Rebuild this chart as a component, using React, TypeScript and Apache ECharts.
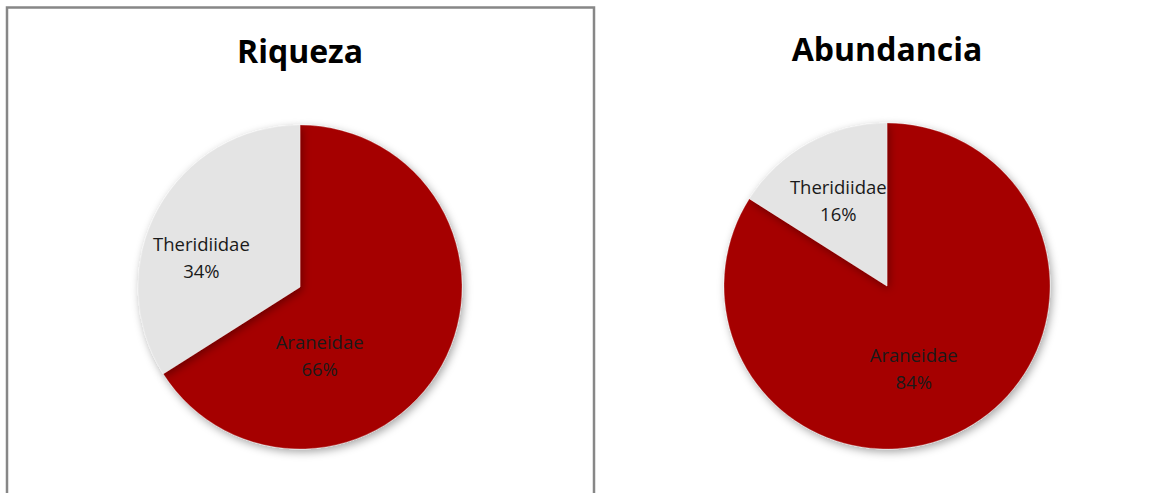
import React, { useEffect, useRef } from "react";
import * as echarts from "echarts";

const families = ["Araneidae", "Theridiidae"];
const riqueza = [66, 34];
const abundancia = [84, 16];
const titles = ["Riqueza", "Abundancia"];

const RED = "#A50505";
const GRAY = "#E4E4E4";

export default function App() {
  const ref = useRef<HTMLDivElement>(null);
  useEffect(() => {
    document.body.style.margin = "0";
    const chart = echarts.init(ref.current!, undefined, { renderer: "svg" });
    const labelStyle = {
      show: true,
      position: "inside",
      formatter: "{b}\n{d}%",
      fontFamily: "Open Sans",
      fontSize: 18.5,
      lineHeight: 27,
      color: "#1a1a1a",
    };
    const makeData = (vals: number[], offsets: number[][]) =>
      families.map((name, i) => ({
        name,
        value: vals[i],
        itemStyle: { color: i === 0 ? RED : GRAY },
        label: { offset: offsets[i] },
      }));
    const pieStyle = {
      shadowBlur: 8,
      shadowColor: "rgba(0,0,0,0.35)",
      shadowOffsetX: 2,
      shadowOffsetY: 3,
      borderColor: "rgba(255,255,255,0.25)",
      borderWidth: 1,
    };
    chart.setOption({
      animation: false,
      backgroundColor: "#ffffff",
      graphic: [
        {
          type: "rect",
          shape: { x: 7, y: 7.5, width: 587, height: 500 },
          style: { fill: "none", stroke: "#878787", lineWidth: 2.5 },
        },
        {
          type: "text",
          x: 300,
          y: 50,
          style: {
            text: titles[0],
            font: "bold 32px 'Open Sans'",
            fill: "#000",
            textAlign: "center",
            textVerticalAlign: "middle",
          },
        },
        {
          type: "text",
          x: 887,
          y: 48,
          style: {
            text: titles[1],
            font: "bold 32px 'Open Sans'",
            fill: "#000",
            textAlign: "center",
            textVerticalAlign: "middle",
          },
        },
      ],
      series: [
        {
          type: "pie",
          center: [300, 287],
          radius: [0, 162],
          startAngle: 90,
          clockwise: true,
          label: labelStyle,
          labelLine: { show: false },
          itemStyle: pieStyle,
          emphasis: { disabled: true },
          data: makeData(riqueza, [
            [-54, 28],
            [-25, 10],
          ]),
        },
        {
          type: "pie",
          center: [887, 286],
          radius: [0, 163],
          startAngle: 90,
          clockwise: true,
          label: labelStyle,
          labelLine: { show: false },
          itemStyle: pieStyle,
          emphasis: { disabled: true },
          data: makeData(abundancia, [
            [-14, 8],
            [-8, -12],
          ]),
        },
      ],
    });
    return () => chart.dispose();
  }, []);
  return <div ref={ref} style={{ width: 1171, height: 493 }} />;
}
